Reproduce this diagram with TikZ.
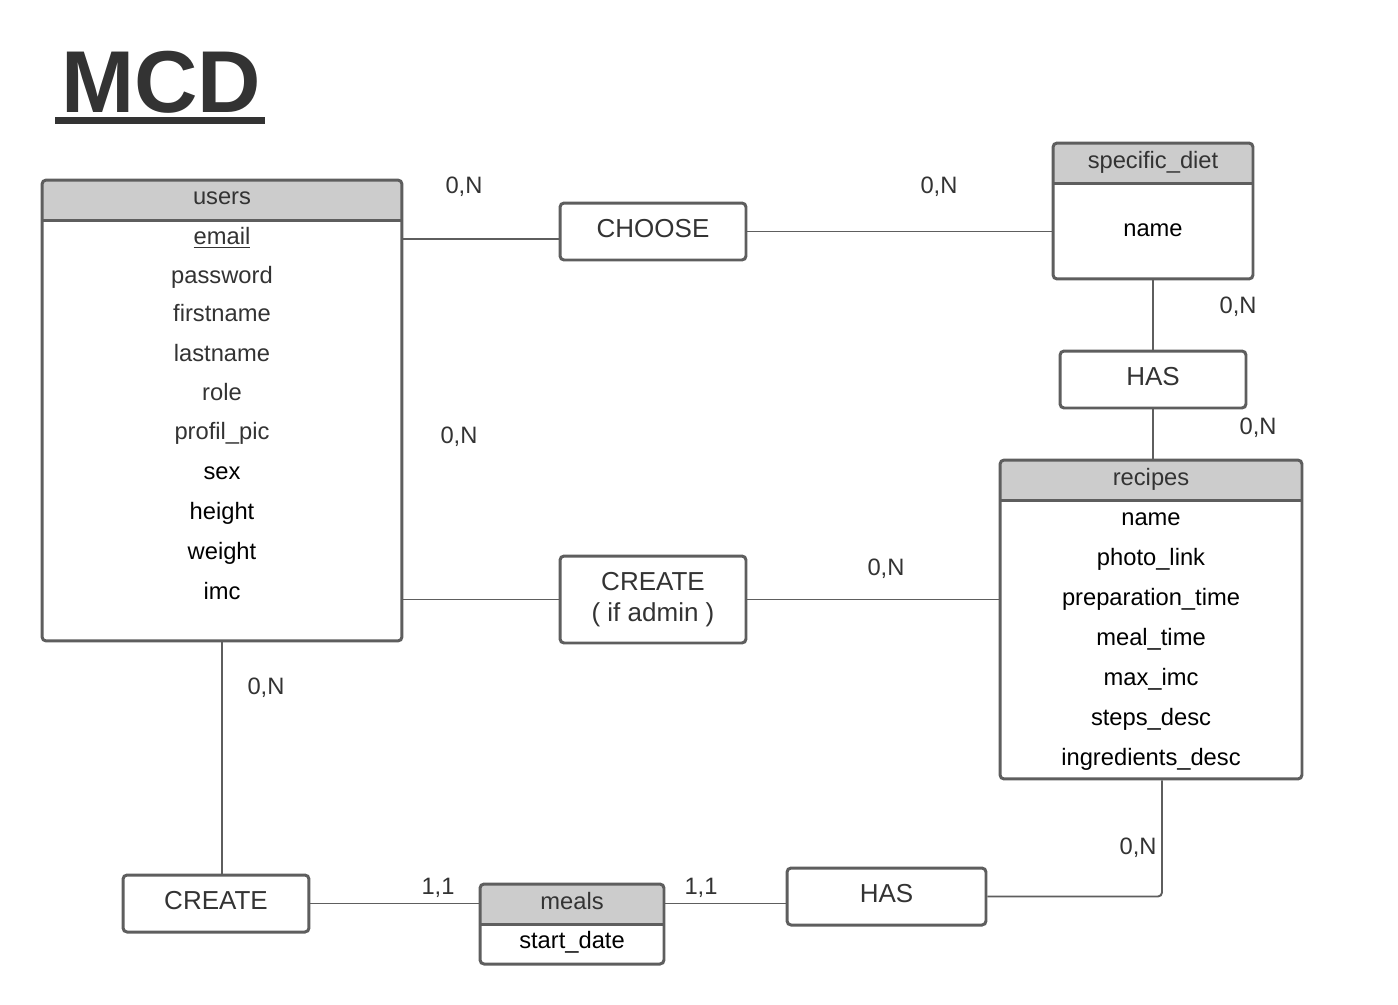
\documentclass[tikz,border=0pt]{standalone}
\usepackage{fontspec}
\setmainfont{Liberation Sans}
\definecolor{linegray}{HTML}{5E5E5E}
\definecolor{headgray}{HTML}{CCCCCC}
\definecolor{textgray}{HTML}{333333}
\tikzset{
    entity/.style={draw=linegray, line width=1.7pt, rounded corners=2.3pt, fill=white,
        path picture={
            \fill[headgray, sharp corners] (path picture bounding box.north west) rectangle ([yshift=-0.8cm]path picture bounding box.north east);
            \draw[linegray, line width=1.7pt] ([yshift=-0.8cm]path picture bounding box.north west) -- ([yshift=-0.8cm]path picture bounding box.north east);
        }},
    relation/.style={draw=linegray, line width=1.7pt, rounded corners=2.3pt, fill=white, text=textgray,
        align=center, font=\fontsize{14.8}{18}\selectfont, minimum height=1.14cm, inner sep=0pt},
    relline/.style={relation, text height=10.6pt, text depth=3.4pt},
    attr/.style={font=\fontsize{13.5}{16}\selectfont, inner sep=0pt, text height=11.9pt, text depth=2.8pt},
    head/.style={attr, text=textgray},
    card/.style={attr, text=textgray},
    link/.style={draw=linegray, line width=1.1pt}
}
\begin{document}
\begin{tikzpicture}[x=0.02cm, y=-0.02cm]
            \useasboundingbox (0,0) rectangle (1398,1004);
            \node[anchor=base west, inner sep=0pt, text=textgray, font=\fontsize{50}{60}\selectfont\bfseries] (title) at (61,112) {MCD};
            \draw[textgray, line width=4pt] (55,120.5) -- (265,120.5);

            \node[entity, minimum width=7.2cm, minimum height=9.22cm] (users) at (222,410.5) {};
            \node[head] (usershead) at (222,197) {users};
            \node[attr, text=textgray] (email) at (222,237) {\underline{email}};
            \node[attr, text=textgray] (password) at (222,275) {password};
            \node[attr, text=textgray] (firstname) at (222,314) {firstname};
            \node[attr, text=textgray] (lastname) at (222,353) {lastname};
            \node[attr, text=textgray] (role) at (222,392) {role};
            \node[attr, text=textgray] (profilpic) at (222,431) {profil\_pic};
            \node[attr] (sex) at (222,471) {sex};
            \node[attr] (height) at (222,511) {height};
            \node[attr] (weight) at (222,551) {weight};
            \node[attr] (imc) at (222,591) {imc};

            \node[entity, minimum width=4cm, minimum height=2.72cm] (diet) at (1153,211) {};
            \node[head] (diethead) at (1153,161) {specific\_diet};
            \node[attr] (dietname) at (1153,229) {name};

            \node[entity, minimum width=6.04cm, minimum height=6.38cm] (recipes) at (1151,619.5) {};
            \node[head] (recipeshead) at (1151,477) {recipes};
            \node[attr] (recipename) at (1151,517) {name};
            \node[attr] (photolink) at (1151,557) {photo\_link};
            \node[attr] (preptime) at (1151,597) {preparation\_time};
            \node[attr] (mealtime) at (1151,637) {meal\_time};
            \node[attr] (maximc) at (1151,677) {max\_imc};
            \node[attr] (stepsdesc) at (1151,717) {steps\_desc};
            \node[attr] (ingredients) at (1151,757) {ingredients\_desc};

            \node[entity, minimum width=3.68cm, minimum height=1.6cm] (meals) at (572,924) {};
            \node[head] (mealshead) at (572,901) {meals};
            \node[attr] (startdate) at (572,940) {start\_date};

            \node[relline, minimum width=3.72cm] (choose) at (653,231.5) {CHOOSE};
            \node[relline, minimum width=3.72cm] (hasdiet) at (1153,379.5) {HAS};
            \node[relation, minimum width=3.72cm, minimum height=1.74cm] (createrecipe) at (653,599.5) {CREATE\\( if admin )};
            \node[relline, minimum width=3.72cm] (createmeal) at (216,903.5) {CREATE};
            \node[relline, minimum width=3.98cm] (hasrecipe) at (886.5,896.5) {HAS};

            \draw[link] ([yshift=-0.04cm]email -| users.east) -- ([yshift=-0.04cm]email -| choose.west);
            \draw[link] (choose.east) -- (choose.east -| diet.west);
            \draw[link] (diet.south) -- (hasdiet.north);
            \draw[link] (hasdiet.south) -- (hasdiet.south |- recipes.north);
            \draw[link] (createrecipe.west -| users.east) -- (createrecipe.west);
            \draw[link] (createrecipe.east) -- (createrecipe.east -| recipes.west);
            \draw[link] (users.south) -- (users.south |- createmeal.north);
            \draw[link] (createmeal.east) -- (createmeal.east -| meals.west);
            \draw[link] (createmeal.east -| meals.east) -- (createmeal.east -| hasrecipe.west);
            \draw[link, rounded corners=2.3pt] (hasrecipe.east) -| ([xshift=0.22cm]recipes.south);

            \node[card] (chooseusers) at (464,186) {0,N};
            \node[card] (choosediet) at (939,186) {0,N};
            \node[card] (hasdiettop) at (1238,306) {0,N};
            \node[card] (hasdietbottom) at (1258,426) {0,N};
            \node[card] (createusers) at (459,435) {0,N};
            \node[card] (createrecipes) at (886,567) {0,N};
            \node[card] (mealusers) at (266,686) {0,N};
            \node[card] (mealcreate) at (438,886) {1,1};
            \node[card] (mealhas) at (701,886) {1,1};
            \node[card] (hasrecipes) at (1138,846) {0,N};
        \end{tikzpicture}
\end{document}
